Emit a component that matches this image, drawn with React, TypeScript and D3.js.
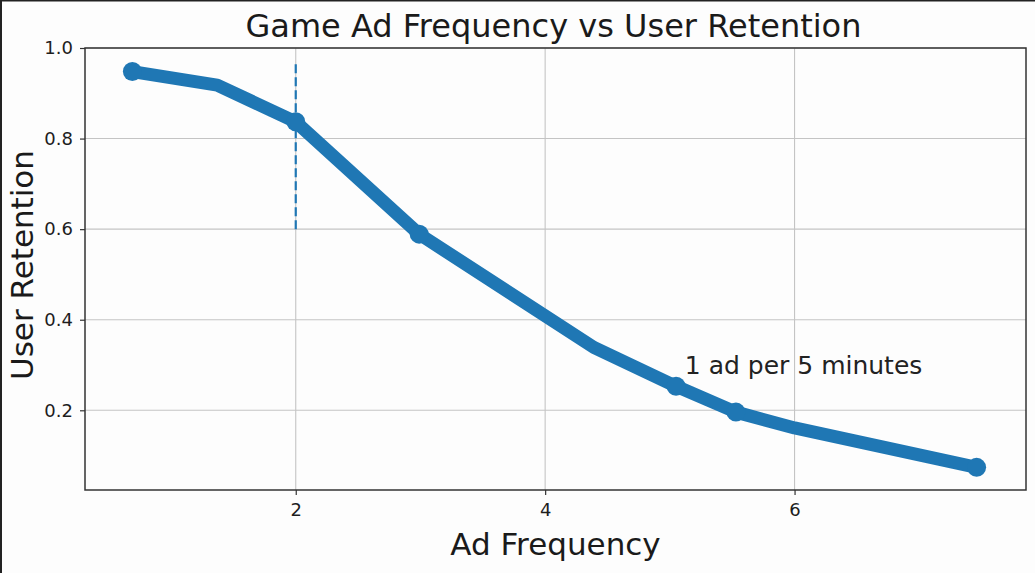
import React, { useEffect, useRef } from 'react';
import * as d3 from 'd3';

// line vertices
const adFrequency = [0.69, 1.37, 2.0, 2.99, 4.39, 5.05, 5.53, 6.0, 7.46];
const retention = [0.948, 0.918, 0.837, 0.589, 0.339, 0.253, 0.196, 0.161, 0.074];

// points that carry a round marker
const markerFrequency = [0.69, 2.0, 2.99, 5.05, 5.53, 7.46];
const markerRetention = [0.948, 0.837, 0.589, 0.253, 0.196, 0.074];

const xTicks = [2, 4, 6];
const yTicks = [0.2, 0.4, 0.6, 0.8, 1.0];

const guideX = 2;
const guideRange = [0.6, 0.967];

const noteText = '1 ad per 5 minutes';
const notePos = [5.12, 0.3];

const W = 1035;
const H = 573;
const FONT = '"DejaVu Sans", sans-serif';
const BLUE = '#1f77b4';

function RetentionChart() {
  const svgRef = useRef(null);

  useEffect(() => {
    const svg = d3.select(svgRef.current);
    svg.selectAll('*').remove();

    const left = 85, right = 1026, top = 48, bottom = 490;

    const x = d3.scaleLinear().domain([0.31, 7.856]).range([left, right]);
    const y = d3.scaleLinear().domain([0.024, 1.0]).range([bottom, top]);

    svg.append('rect').attr('width', W).attr('height', H).attr('fill', '#fdfdfd');
    // screenshot frame on the left and top edges
    svg.append('rect').attr('x', 0).attr('y', 0).attr('width', 2).attr('height', H).attr('fill', '#222');
    svg.append('rect').attr('x', 0).attr('y', 0).attr('width', W).attr('height', 1.5).attr('fill', '#222');

    // grid
    const grid = svg.append('g').attr('stroke', '#c4c4c4').attr('stroke-width', 1.1);
    xTicks.forEach((t) => {
      grid.append('line').attr('x1', x(t)).attr('x2', x(t)).attr('y1', top).attr('y2', bottom);
    });
    yTicks.forEach((t) => {
      grid.append('line').attr('x1', left).attr('x2', right).attr('y1', y(t)).attr('y2', y(t));
    });

    // axes (ticks + labels)
    const xAxis = svg
      .append('g')
      .attr('transform', `translate(0,${bottom})`)
      .call(d3.axisBottom(x).tickValues(xTicks).tickFormat(d3.format('d')).tickSize(5).tickPadding(8));
    const yAxis = svg
      .append('g')
      .attr('transform', `translate(${left},0)`)
      .call(d3.axisLeft(y).tickValues(yTicks).tickFormat(d3.format('.1f')).tickSize(5).tickPadding(7));
    [xAxis, yAxis].forEach((a) => {
      a.select('.domain').remove();
      a.selectAll('line').attr('stroke', '#333').attr('stroke-width', 1.2);
      a.selectAll('text').attr('font-family', FONT).attr('font-size', 18).attr('fill', '#1e1e1e');
    });

    // dashed guide at 2 ads
    svg
      .append('line')
      .attr('x1', x(guideX))
      .attr('x2', x(guideX))
      .attr('y1', y(guideRange[0]))
      .attr('y2', y(guideRange[1]))
      .attr('stroke', BLUE)
      .attr('stroke-width', 2.2)
      .attr('stroke-dasharray', '9,4');

    // main line
    const pts = adFrequency.map((f, i) => [f, retention[i]]);
    const line = d3.line().x((d) => x(d[0])).y((d) => y(d[1]));
    svg
      .append('path')
      .attr('d', line(pts))
      .attr('fill', 'none')
      .attr('stroke', BLUE)
      .attr('stroke-width', 13)
      .attr('stroke-linejoin', 'round')
      .attr('stroke-linecap', 'round');

    svg
      .append('g')
      .selectAll('circle')
      .data(markerFrequency)
      .join('circle')
      .attr('cx', (d) => x(d))
      .attr('cy', (d, i) => y(markerRetention[i]))
      .attr('r', 9.5)
      .attr('fill', BLUE);

    // frame of the axes
    svg
      .append('rect')
      .attr('x', left)
      .attr('y', top)
      .attr('width', right - left)
      .attr('height', bottom - top)
      .attr('fill', 'none')
      .attr('stroke', '#333')
      .attr('stroke-width', 1.5);

    svg
      .append('text')
      .attr('x', x(notePos[0]))
      .attr('y', y(notePos[1]) + 9)
      .attr('font-family', FONT)
      .attr('font-size', 25)
      .attr('fill', '#222')
      .text(noteText);

    svg
      .append('text')
      .attr('x', (left + right) / 2 - 2)
      .attr('y', 37)
      .attr('text-anchor', 'middle')
      .attr('font-family', FONT)
      .attr('font-size', 32)
      .attr('fill', '#1a1a1a')
      .text('Game Ad Frequency vs User Retention');

    svg
      .append('text')
      .attr('x', (left + right) / 2)
      .attr('y', 555)
      .attr('text-anchor', 'middle')
      .attr('font-family', FONT)
      .attr('font-size', 31)
      .attr('fill', '#1a1a1a')
      .text('Ad Frequency');

    svg
      .append('text')
      .attr('transform', `translate(33,265) rotate(-90)`)
      .attr('text-anchor', 'middle')
      .attr('font-family', FONT)
      .attr('font-size', 31)
      .attr('fill', '#1a1a1a')
      .text('User Retention');
  }, []);

  return (
    <svg
      ref={svgRef}
      width={W}
      height={H}
      style={{ position: 'absolute', left: 0, top: 0 }}
      xmlns="http://www.w3.org/2000/svg"
    />
  );
}

export default function App() {
  return (
    <div className="App">
      <RetentionChart />
    </div>
  );
}
